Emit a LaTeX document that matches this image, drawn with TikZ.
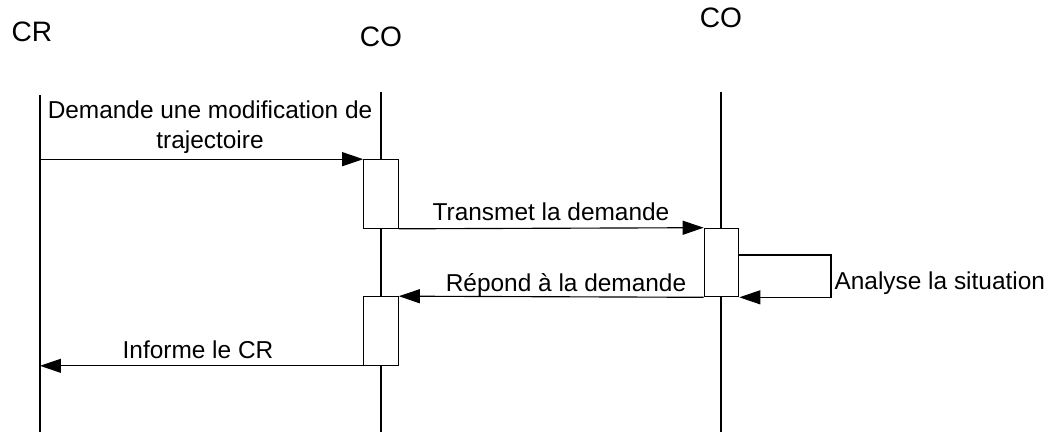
\documentclass[tikz,border=0pt]{standalone}
\usepackage{fontspec}
\setmainfont{Liberation Sans}
\usetikzlibrary{arrows.meta,positioning}

\tikzset{
  actor/.style={font=\fontsize{16}{19}\selectfont, inner sep=0pt},
  activation/.style={draw, fill=white, minimum width=0.69cm, minimum height=1.37cm, inner sep=0pt},
  msg/.style={-{Triangle[length=0.42cm,width=0.28cm]}},
  msglabel/.style={font=\fontsize{13.9}{17}\selectfont, inner sep=0pt, align=center},
}

\begin{document}
\begin{tikzpicture}[x=0.02cm, y=-0.02cm, line width=0.65pt]
    \useasboundingbox (0,0) rectangle (1050,432);

    % Participants
    \node[actor] (cr) at (32,32) {CR};
    \node[actor] (co1) at (381,37) {CO};
    \node[actor] (co2) at (721,18) {CO};

    % Lifelines
    \foreach \name/\x/\top in {cr/40/95, co1/381/92, co2/721/92} {
        \coordinate (\name-top) at (\x,\top);
        \coordinate (\name-bot) at (\x,432);
        \draw (\name-top) -- (\name-bot);
    }

    % Activation boxes
    \node[activation] (act1) at (381,194) {};
    \node[activation] (act2) at (721.5,262.5) {};
    \node[activation] (act3) at (381,331) {};

    % Message 1: CR -> CO
    \coordinate (m1-start) at (cr-top |- act1.north west);
    \draw[msg] (m1-start) -- (act1.north west);
    \node[msglabel] (l1) at (210,127) {Demande une modification de\\trajectoire};

    % Message 2: CO -> CO
    \draw[msg] (act1.south east) -- (act2.north west);
    \node[msglabel] (l2) at (551,212) {Transmet la demande};

    % Self message on second CO
    \coordinate (loop) at (831,255);
    \draw[msg] (act2.east |- loop) -- (loop) |- (act2.south east);
    \node[msglabel, anchor=west] (l3) at (834,283) {Analyse la situation};

    % Message 3: answer back
    \draw[msg] (act2.south west) -- (act3.north east);
    \node[msglabel] (l4) at (566,285) {Répond à la demande};

    % Message 4: CO -> CR
    \coordinate (m4-end) at (cr-top |- act3.south west);
    \draw[msg] (act3.south west) -- (m4-end);
    \node[msglabel] (l5) at (198,350) {Informe le CR};
\end{tikzpicture}
\end{document}
